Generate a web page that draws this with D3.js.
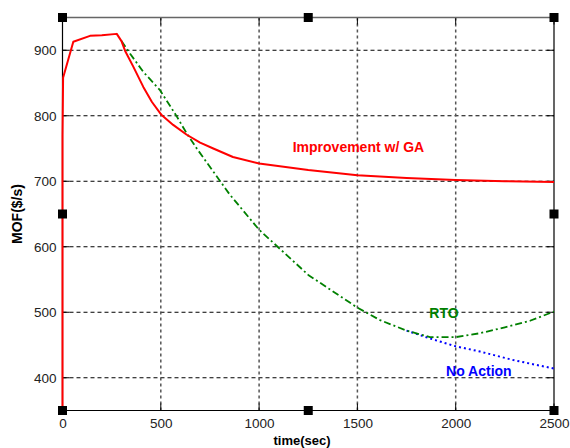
<!DOCTYPE html>
<html>
<head>
<meta charset="utf-8">
<script src="https://cdn.jsdelivr.net/npm/d3@7"></script>
<style>
  body { margin: 0; background: #fff; }
  svg { display: block; font-family: "Liberation Sans", Arial, sans-serif; }
</style>
</head>
<body>
<svg id="vis"></svg>
<script>
// chart values
const xTicks = [0, 500, 1000, 1500, 2000, 2500];
const yTicks = [400, 500, 600, 700, 800, 900];

// Improvement w/ GA (red, solid)
const gaTime = [0, 0, 3, 55, 140, 200, 276, 300, 320, 360, 411, 455, 504, 563, 632, 700, 767, 867, 1000, 1250, 1500, 1750, 2000, 2250, 2500];
const gaMof  = [350, 770, 858, 913, 922, 923, 925, 914, 898, 875, 844, 821, 801, 786, 771, 759, 750, 737, 727, 717, 709, 705, 702, 700, 699];

// RTO (green, dash-dot)
const rtoTime = [300, 343, 411, 496, 581, 632, 683, 850, 1000, 1250, 1500, 1615, 1750, 1869, 2000, 2124, 2250, 2378, 2500];
const rtoMof  = [914, 895, 867, 839, 799, 773, 750, 680, 626, 557, 507, 488, 472, 462, 462, 468, 477, 487, 501];

// No Action (blue, dotted)
const naTime = [1750, 1869, 2000, 2124, 2293, 2500];
const naMof  = [472, 460, 448, 440, 427, 414];

// in-plot labels: text, time, MOF at the start of the text baseline
const labelText = ["Improvement w/ GA", "RTO", "No Action"];
const labelTime = [1171, 1866, 1951];
const labelMof  = [744, 491, 402];
const labelColor = ["#ff0000", "#008000", "#0000ff"];

const width = 570;
const height = 448;

// plot box
const xScale = d3.scaleLinear().domain([0, 2500]).range([62.5, 554]);
const yScale = d3.scaleLinear().domain([350, 950]).range([410.5, 17.5]);

const svg = d3.select("#vis").attr("width", width).attr("height", height);

const x0 = xScale(0), x1 = xScale(2500), y0 = yScale(350), y1 = yScale(950);

// grid lines
svg.append("g").selectAll("line").data(yTicks).join("line")
    .attr("x1", x0).attr("x2", x1)
    .attr("y1", d => yScale(d)).attr("y2", d => yScale(d))
    .attr("stroke", "#000").attr("stroke-width", 1).attr("stroke-dasharray", "4,3");
svg.append("g").selectAll("line").data(xTicks.slice(1, -1)).join("line")
    .attr("x1", d => xScale(d)).attr("x2", d => xScale(d))
    .attr("y1", y1).attr("y2", y0)
    .attr("stroke", "#555").attr("stroke-width", 1.5).attr("stroke-dasharray", "3,3");

// axes, ticks point into the plot
const xAxis = d3.axisBottom(xScale).tickValues(xTicks).tickFormat(d3.format("d"))
    .tickSize(0).tickPadding(7.5);
const yAxis = d3.axisLeft(yScale).tickValues(yTicks).tickFormat(d3.format("d"))
    .tickSize(0).tickPadding(6);

function styleAxis(g) {
    g.select(".domain").remove();
    g.selectAll("text").attr("fill", "#222").style("font-size", "13.5px");
}
svg.append("g").attr("transform", `translate(0,${y0})`).call(xAxis).call(styleAxis);
svg.append("g").attr("transform", `translate(${x0},0)`).call(yAxis).call(styleAxis);

const tickLen = 7;
const ticks = svg.append("g").attr("stroke", "#000").attr("stroke-width", 1);
ticks.selectAll(".xb").data(xTicks).join("line")
    .attr("x1", d => xScale(d)).attr("x2", d => xScale(d)).attr("y1", y0).attr("y2", y0 - tickLen);
ticks.selectAll(".xt").data(xTicks).join("line")
    .attr("x1", d => xScale(d)).attr("x2", d => xScale(d)).attr("y1", y1).attr("y2", y1 + tickLen);
ticks.selectAll(".yl").data(yTicks).join("line")
    .attr("x1", x0).attr("x2", x0 + tickLen).attr("y1", d => yScale(d)).attr("y2", d => yScale(d));
ticks.selectAll(".yr").data(yTicks).join("line")
    .attr("x1", x1).attr("x2", x1 - tickLen).attr("y1", d => yScale(d)).attr("y2", d => yScale(d));

// box: top edge is grey, the rest black
svg.append("line").attr("x1", x0).attr("x2", x1).attr("y1", y1).attr("y2", y1)
    .attr("stroke", "#666").attr("stroke-width", 1.5);
svg.append("path").attr("d", `M${x0},${y1}V${y0}H${x1}V${y1}`)
    .attr("fill", "none").attr("stroke", "#000").attr("stroke-width", 1.2);

// series
const line = d3.line().x(d => xScale(d[0])).y(d => yScale(d[1]));
const series = [
    {t: naTime, v: naMof, color: "#0000ff", w: 2, dash: "2,3"},
    {t: rtoTime, v: rtoMof, color: "#008000", w: 1.8, dash: "7,3,2,3"},
    {t: gaTime, v: gaMof, color: "#ff0000", w: 2, dash: null}
];
series.forEach(s => {
    svg.append("path")
        .datum(s.t.map((t, i) => [t, s.v[i]]))
        .attr("d", line)
        .attr("fill", "none")
        .attr("stroke", s.color)
        .attr("stroke-width", s.w)
        .attr("stroke-dasharray", s.dash)
        .attr("stroke-linejoin", "round");
});

// labels inside the plot
svg.append("g").selectAll("text").data(labelText).join("text")
    .attr("x", (d, i) => xScale(labelTime[i]))
    .attr("y", (d, i) => yScale(labelMof[i]))
    .attr("fill", (d, i) => labelColor[i])
    .style("font-size", "14px").style("font-weight", "bold")
    .text(d => d);

// axis titles
svg.append("text").attr("x", 302).attr("y", 444.5)
    .attr("text-anchor", "middle")
    .style("font-size", "13px").style("font-weight", "bold")
    .text("time(sec)");
svg.append("text").attr("transform", "translate(22,214) rotate(-90)")
    .attr("text-anchor", "middle")
    .style("font-size", "14px").style("font-weight", "bold")
    .text("MOF($/s)");

// selection handles on the axes box
const handleT = [0, 1250, 2500];
const handleV = [350, 650, 950];
const handles = [];
handleT.forEach(t => handleV.forEach(v => {
    if (!(t === 1250 && v === 650)) handles.push([t, v]);
}));
svg.append("g").selectAll("rect").data(handles).join("rect")
    .attr("x", d => xScale(d[0]) - 4.5)
    .attr("y", d => yScale(d[1]) - 4.5)
    .attr("width", 9).attr("height", 9)
    .attr("fill", "#000");
</script>
</body>
</html>
